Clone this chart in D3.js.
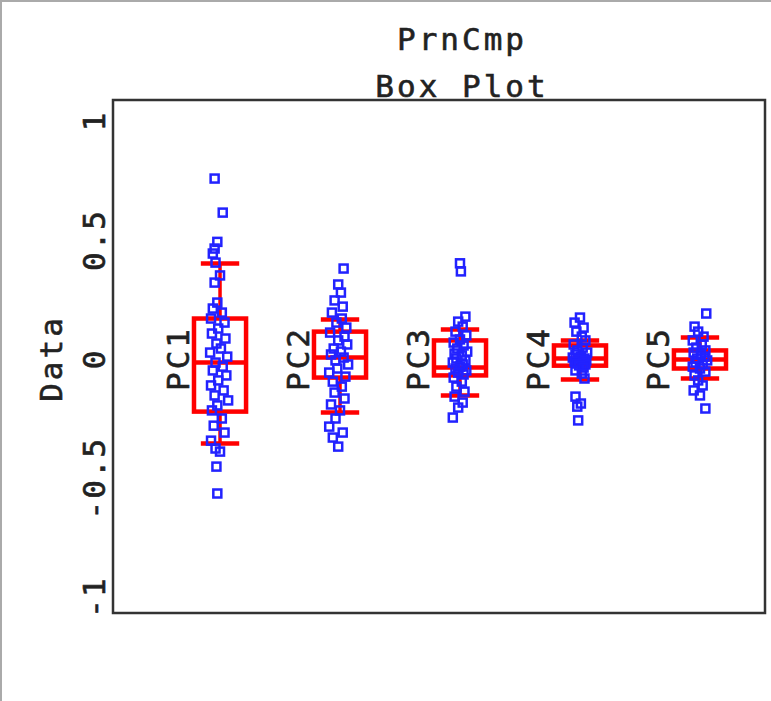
<!DOCTYPE html>
<html>
<head>
<meta charset="utf-8">
<script src="https://cdn.jsdelivr.net/npm/d3@7"></script>
<style>
  body { margin: 0; background: #fff; }
  text { font-family: "DejaVu Sans Mono", monospace; fill: #222; stroke: #222; stroke-width: 0.6; }
</style>
</head>
<body>
<div id="plot"></div>
<script>
// chart values
const categories = ["PC1", "PC2", "PC3", "PC4", "PC5"];
const titleLines = ["PrnCmp", "Box Plot"];
const yTicks = [-1, -0.5, 0, 0.5, 1];

// box statistics per component
const q1 = [-0.223, -0.080, -0.071, -0.030, -0.042];
const median = [-0.017, 0.004, -0.038, 0.000, -0.004];
const q3 = [0.168, 0.113, 0.076, 0.055, 0.034];
const whiskerLo = [-0.357, -0.227, -0.155, -0.088, -0.084];
const whiskerHi = [0.399, 0.164, 0.122, 0.076, 0.088];

// scores per component and their horizontal jitter
const pc1 = [0.756, 0.613, 0.49, 0.462, 0.441, 0.403, 0.349, 0.319, 0.235, 0.21, 0.193, 0.168, 0.151, 0.126,
  0.105, 0.084, 0.063, 0.042, 0.025, 0.008, -0.017, -0.034, -0.05, -0.071, -0.092, -0.113, -0.134, -0.155,
  -0.176, -0.197, -0.218, -0.252, -0.282, -0.311, -0.345, -0.378, -0.391, -0.454, -0.567];
const pc1Jit = [-0.06, 0.03, -0.03, -0.06, -0.08, -0.05, 0.0, -0.06, -0.03, -0.08, 0.02, -0.1, 0.05, -0.02,
  -0.09, 0.06, -0.04, 0.01, -0.11, 0.08, -0.05, 0.03, -0.08, 0.07, -0.02, -0.1, 0.04, -0.06, 0.09, -0.03,
  -0.09, 0.02, -0.07, 0.05, -0.1, -0.05, 0.0, -0.04, -0.03];
const pc2 = [0.378, 0.311, 0.277, 0.244, 0.218, 0.193, 0.168, 0.151, 0.13, 0.109, 0.092, 0.076, 0.059, 0.042,
  0.029, 0.017, 0.004, -0.008, -0.025, -0.042, -0.059, -0.076, -0.097, -0.118, -0.143, -0.168, -0.193,
  -0.218, -0.252, -0.286, -0.311, -0.332, -0.37];
const pc2Jit = [0.04, -0.02, 0.01, -0.06, 0.03, -0.09, 0.02, -0.04, 0.07, -0.11, 0.05, -0.02, 0.08, -0.07,
  0.01, -0.1, 0.04, -0.05, 0.09, -0.03, -0.12, 0.06, -0.08, 0.02, -0.06, 0.05, -0.1, 0.0, -0.05, -0.12,
  0.03, -0.08, -0.02];
const pc3 = [0.40, 0.366, 0.176, 0.155, 0.134, 0.113, 0.097, 0.08, 0.067, 0.055, 0.042, 0.029, 0.021, 0.013,
  0.0, -0.008, -0.017, -0.025, -0.034, -0.042, -0.05, -0.059, -0.067, -0.08, -0.097, -0.118, -0.139, -0.16,
  -0.185, -0.206, -0.248];
const pc3Jit = [0.0, 0.01, 0.06, -0.02, 0.03, -0.05, 0.07, 0.0, -0.07, 0.04, -0.03, 0.08, -0.06, 0.02,
  -0.04, 0.06, -0.08, 0.03, 0.0, -0.05, 0.07, -0.02, 0.04, -0.07, 0.02, -0.04, 0.05, -0.06, 0.03, -0.02,
  -0.08];
const pc4 = [0.172, 0.151, 0.13, 0.113, 0.092, 0.076, 0.059, 0.046, 0.034, 0.025, 0.017, 0.008, 0.004, 0.0,
  -0.004, -0.008, -0.013, -0.017, -0.021, -0.025, -0.029, -0.038, -0.05, -0.063, -0.084, -0.16, -0.189,
  -0.202, -0.26];
const pc4Jit = [0.0, -0.06, 0.04, -0.04, 0.02, 0.06, -0.07, 0.03, -0.03, 0.08, -0.05, 0.01, -0.08, 0.05,
  -0.02, 0.07, -0.06, 0.03, -0.04, 0.06, -0.01, 0.04, -0.05, 0.02, 0.05, -0.05, 0.01, -0.03, -0.02];
const pc5 = [0.189, 0.134, 0.113, 0.092, 0.076, 0.059, 0.046, 0.034, 0.025, 0.017, 0.008, 0.0, -0.008, -0.017,
  -0.025, -0.034, -0.042, -0.055, -0.071, -0.092, -0.113, -0.134, -0.155, -0.21];
const pc5Jit = [0.07, -0.06, -0.02, 0.04, -0.08, 0.02, -0.04, 0.06, -0.07, 0.01, 0.05, -0.03, 0.08, -0.05,
  0.03, -0.08, 0.0, 0.06, -0.06, -0.02, 0.03, -0.07, 0.0, 0.06];

const scores = [pc1, pc2, pc3, pc4, pc5];
const jitter = [pc1Jit, pc2Jit, pc3Jit, pc4Jit, pc5Jit];

// dimensions
const width = 771;
const height = 701;
const frame = {left: 113, right: 765, top: 100, bottom: 613};
const jitterSpread = 0.75;

const svg = d3.select("div#plot")
  .append("svg")
    .attr("width", width)
    .attr("height", height);

svg.append("rect")
    .attr("width", width)
    .attr("height", height)
    .attr("fill", "#fff");

// thin grey edge of the figure window
svg.append("path")
    .attr("d", `M1,${height} V1 H${width}`)
    .attr("fill", "none")
    .attr("stroke", "#aaa")
    .attr("stroke-width", 2);

const xScale = d3.scaleLinear()
    .domain([0.108, 5.542])
    .range([frame.left, frame.right]);

const yScale = d3.scaleLinear()
    .domain([-1.069, 1.086])
    .range([frame.bottom, frame.top]);

// title
svg.append("g")
  .selectAll("text")
  .data(titleLines)
  .join("text")
    .attr("x", 462)
    .attr("y", (d, i) => 50 + i * 47)
    .attr("text-anchor", "middle")
    .attr("font-size", 31)
    .attr("letter-spacing", 3)
    .text(d => d);

// y axis with rotated labels
const yAxis = d3.axisLeft(yScale)
    .tickValues(yTicks)
    .tickSize(0)
    .tickPadding(0)
    .tickFormat(d => String(d));

const yg = svg.append("g")
    .attr("transform", `translate(${frame.left}, 0)`)
    .call(yAxis);
yg.select(".domain").remove();
yg.selectAll("text")
    .attr("x", null).attr("dy", null)
    .attr("text-anchor", "middle")
    .attr("font-family", "DejaVu Sans Mono")
    .attr("font-size", 31)
    .attr("letter-spacing", 2)
    .attr("fill", "#222")
    .attr("transform", "translate(-8, 0) rotate(-90)");

svg.append("text")
    .attr("transform", `translate(62, ${yScale(0)}) rotate(-90)`)
    .attr("text-anchor", "middle")
    .attr("font-size", 31)
    .attr("letter-spacing", 3)
    .text("Data");

// component labels beside each box
svg.append("g")
  .selectAll("text")
  .data(categories)
  .join("text")
    .attr("transform", (d, i) => `translate(${xScale(i + 1) - 31}, ${yScale(0)}) rotate(-90)`)
    .attr("text-anchor", "middle")
    .attr("font-size", 31)
    .attr("letter-spacing", 3)
    .text(d => d);

// boxes
const boxHalf = 0.217;
const capHalf = 0.16;
const boxes = svg.append("g")
    .attr("fill", "none")
    .attr("stroke", "#ff0000")
    .attr("stroke-width", 4.5);

categories.forEach((c, i) => {
  const x = i + 1;
  boxes.append("rect")
      .attr("x", xScale(x - boxHalf))
      .attr("y", yScale(q3[i]))
      .attr("width", xScale(x + boxHalf) - xScale(x - boxHalf))
      .attr("height", yScale(q1[i]) - yScale(q3[i]));
  boxes.append("line")
      .attr("x1", xScale(x - boxHalf)).attr("x2", xScale(x + boxHalf))
      .attr("y1", yScale(median[i])).attr("y2", yScale(median[i]));
  // whiskers and caps
  [[q3[i], whiskerHi[i]], [q1[i], whiskerLo[i]]].forEach(([from, to]) => {
    boxes.append("line")
        .attr("x1", xScale(x)).attr("x2", xScale(x))
        .attr("y1", yScale(from)).attr("y2", yScale(to))
        .attr("stroke-width", 3.5);
    boxes.append("line")
        .attr("x1", xScale(x - capHalf)).attr("x2", xScale(x + capHalf))
        .attr("y1", yScale(to)).attr("y2", yScale(to));
  });
});

// jittered scores
const pts = svg.append("g")
    .attr("fill", "none")
    .attr("stroke", "#2222ff")
    .attr("stroke-width", 2.5);

scores.forEach((vals, i) => {
  pts.selectAll(null)
    .data(vals)
    .join("rect")
      .attr("x", (d, k) => xScale(i + 1 + jitter[i][k] * jitterSpread) - 4)
      .attr("y", d => yScale(d) - 4)
      .attr("width", 8)
      .attr("height", 8);
});

// plot frame
svg.append("rect")
    .attr("x", frame.left)
    .attr("y", frame.top)
    .attr("width", frame.right - frame.left)
    .attr("height", frame.bottom - frame.top)
    .attr("fill", "none")
    .attr("stroke", "#333")
    .attr("stroke-width", 2.5);
</script>
</body>
</html>
